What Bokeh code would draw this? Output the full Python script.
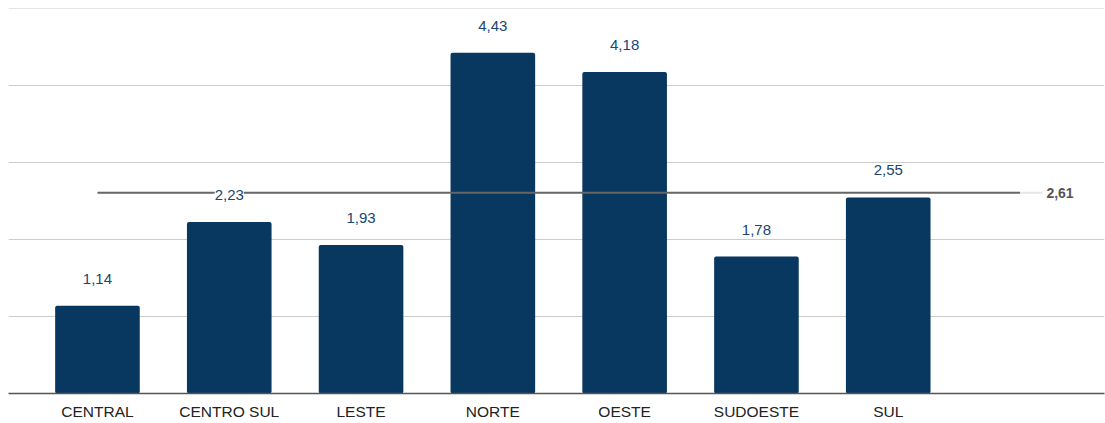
from bokeh.plotting import figure
from bokeh.models import ColumnDataSource, FixedTicker, LabelSet, Range1d, Label
from bokeh.core.properties import value
from bokeh.embed import file_html
from bokeh.resources import INLINE

categories = ["CENTRAL", "CENTRO SUL", "LESTE", "NORTE", "OESTE", "SUDOESTE", "SUL"]
values = [1.14, 2.23, 1.93, 4.43, 4.18, 1.78, 2.55]
value_labels = ["1,14", "2,23", "1,93", "4,43", "4,18", "1,78", "2,55"]
average = 2.61
average_label = "2,61"
y_ticks = [0, 1, 2, 3, 4, 5]

n = len(categories)
xs = list(range(n))
src = ColumnDataSource(dict(x=xs, top=values, label=value_labels))

FONT = "Liberation Sans"

p = figure(width=1105, height=423, output_backend="svg", toolbar_location=None,
           x_range=Range1d(-0.675, 7.641), y_range=Range1d(y_ticks[0], y_ticks[-1] + 0.006),
           min_border_left=8, min_border_right=1, min_border_top=8, min_border_bottom=30)
p.outline_line_color = None
p.background_fill_color = "white"
p.border_fill_color = "white"

p.vbar(x="x", top="top", width=0.642, source=src, fill_color="#08375f",
       line_color=None, border_radius=2)

# average line
p.line(x=[xs[0], n], y=[average, average], line_color="#666666", line_width=2.2)
p.line(x=[n, n + 0.17], y=[average, average], line_color="#e6e6e6", line_width=2)
p.add_layout(Label(x=n + 0.2, y=average, text=average_label, text_align="left",
                   text_baseline="middle", text_font=FONT, text_font_size="14px",
                   text_font_style="bold", text_color="#555555"))

labels = LabelSet(x="x", y="top", text="label", source=src, y_offset=27,
                  text_align="center", text_baseline="middle", text_font=value(FONT),
                  text_font_size="15px", text_color="#1a4670",
                  background_fill_color="white", background_fill_alpha=1.0)
p.add_layout(labels)

p.yaxis.visible = False
p.ygrid.ticker = FixedTicker(ticks=y_ticks)
p.ygrid.grid_line_color = "#cccccc"
p.ygrid.grid_line_width = 1
p.xgrid.grid_line_color = None

p.xaxis.ticker = FixedTicker(ticks=xs)
p.xaxis.major_label_overrides = {i: c for i, c in enumerate(categories)}
p.xaxis.major_tick_line_color = None
p.xaxis.minor_tick_line_color = None
p.xaxis.major_tick_out = 0
p.xaxis.major_label_standoff = 9
p.xaxis.axis_line_color = "#555555"
p.xaxis.axis_line_width = 1.5
p.xaxis.major_label_text_font = FONT
p.xaxis.major_label_text_font_size = "15.5px"
p.xaxis.major_label_text_color = "#222222"

open("out.html", "w").write(file_html(p, INLINE))
